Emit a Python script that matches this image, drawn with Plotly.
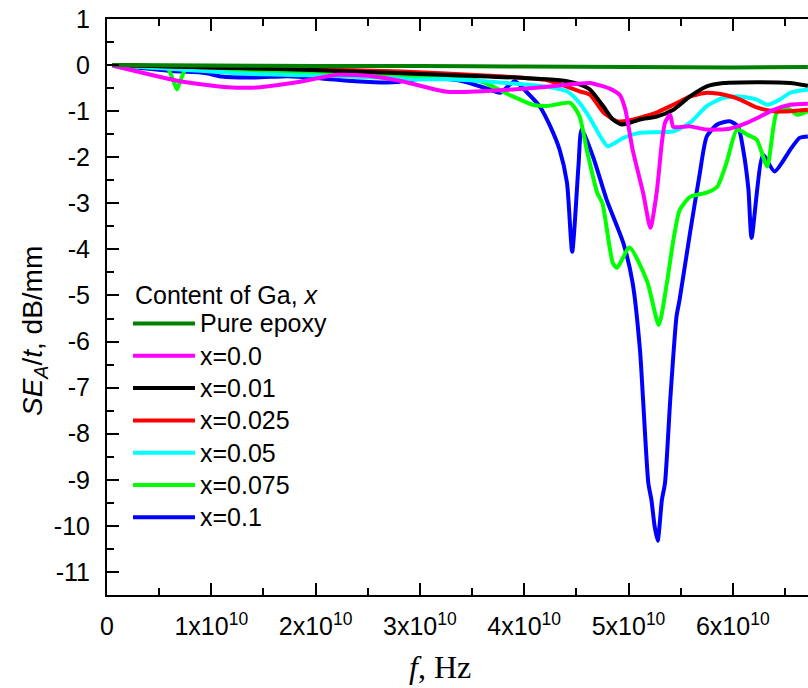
import plotly.graph_objects as go

# ---------------- data (frequency in GHz, SE_A/t in dB/mm) ----------------
epoxy_f = [0.5, 10, 20, 30, 40, 50, 60, 67.2]
epoxy_v = [0.0, -0.01, -0.02, -0.02, -0.03, -0.04, -0.05, -0.04]

x000_f = [0.5, 7.0, 11.6, 14.0, 18.5, 22.1, 25.4, 28.3, 32.6, 38.9, 42.2, 45.3, 46.3,
          48.2, 49.2, 49.7, 50.4, 51.4, 52.1, 52.7, 53.2, 53.5, 54.0, 54.3, 55.9,
          57.5, 59.7, 61.4, 62.6, 63.9, 65.5, 67.2]
x000_v = [-0.01, -0.35, -0.48, -0.49, -0.36, -0.21, -0.24, -0.35, -0.58, -0.53, -0.47, -0.40, -0.39,
          -0.51, -0.66, -0.97, -1.84, -2.77, -3.53, -2.77, -1.68, -1.25, -1.08, -1.34, -1.33,
          -1.40, -1.38, -1.25, -1.12, -0.97, -0.86, -0.84]

x001_f = [0.5, 10, 19.0, 28.3, 35.8, 42.2, 44.1, 45.3, 46.3, 47.6, 48.5, 49.4, 51.1,
          52.7, 54.3, 55.9, 57.5, 59.1, 62.3, 65.5, 67.2]
x001_v = [0.0, -0.05, -0.10, -0.18, -0.24, -0.31, -0.35, -0.42, -0.53, -0.90, -1.18, -1.29, -1.18,
          -1.12, -0.97, -0.68, -0.46, -0.39, -0.37, -0.39, -0.45]

x0025_f = [0.5, 10, 19.0, 28.3, 35.8, 42.2, 45.3, 46.3, 47.6, 48.9, 49.5, 51.1, 52.7,
           54.3, 55.9, 57.5, 59.1, 60.7, 62.3, 63.9, 65.5, 67.2]
x0025_v = [0.0, -0.05, -0.09, -0.14, -0.22, -0.33, -0.57, -0.64, -1.03, -1.22, -1.22, -1.14, -1.03,
           -0.86, -0.68, -0.60, -0.64, -0.75, -0.92, -1.00, -1.00, -0.97]

x005_f = [0.5, 6.0, 9.4, 12.5, 19.0, 26.0, 29.3, 32.6, 38.9, 42.2, 44.1, 45.3, 46.3, 47.3,
          48.0, 49.5, 51.1, 54.3, 55.9, 57.5, 59.1, 60.7, 62.3, 63.3, 64.5, 65.5, 67.2]
x005_v = [0.0, -0.08, -0.13, -0.18, -0.22, -0.27, -0.31, -0.31, -0.40, -0.47, -0.57, -0.82, -1.15, -1.55,
          -1.76, -1.58, -1.47, -1.44, -1.25, -0.89, -0.71, -0.68, -0.75, -0.86, -0.75, -0.60, -0.53]

x0075_f = [0.5, 4.0, 5.8, 6.3, 6.7, 7.1, 7.6, 12.0, 19.0, 26.0, 32.6, 35.8, 38.9, 40.8, 42.2,
           44.4, 45.3, 46.0, 47.0, 47.5, 48.5, 48.9, 50.1, 51.8, 52.9, 53.7, 54.3, 54.9,
           55.9, 57.5, 58.5, 59.4, 60.4, 61.4, 62.3, 63.3, 64.2, 65.2, 66.2, 67.2]
x0075_v = [0.0, -0.05, -0.07, -0.30, -0.53, -0.30, -0.08, -0.12, -0.18, -0.22, -0.28, -0.35, -0.68, -0.86, -0.89,
           -0.82, -1.11, -1.84, -2.77, -3.00, -4.30, -4.40, -3.96, -4.70, -5.64, -4.70, -3.80, -3.15,
           -2.86, -2.77, -2.64, -2.12, -1.40, -1.51, -1.62, -2.20, -1.04, -0.93, -1.08, -1.00]

x01_f = [0.5, 6.2, 9.4, 11.0, 14.2, 17.4, 20.6, 23.8, 26.9, 27.8, 31.0, 34.1, 36.7, 37.7,
         39.1, 40.3, 41.5, 42.5, 43.4, 44.1, 44.6, 45.2, 45.5, 46.6, 47.9, 49.5, 50.4,
         51.1, 51.4, 51.9, 52.2, 52.5, 52.8, 53.2, 53.5, 54.0, 54.6, 54.9, 55.9, 56.8,
         57.5, 58.5, 59.7, 60.5, 61.0, 61.5, 61.8, 62.9, 64.0, 65.5, 66.4, 67.2]
x01_v = [0.0, -0.13, -0.17, -0.25, -0.27, -0.24, -0.29, -0.35, -0.38, -0.37, -0.27, -0.35, -0.53, -0.60,
         -0.35, -0.60, -0.90, -1.33, -1.84, -2.55, -4.05, -2.20, -1.40, -1.99, -2.92, -3.86, -4.73,
         -6.18, -7.27, -9.07, -9.44, -10.0, -10.32, -9.44, -9.07, -7.27, -5.46, -5.09, -3.64, -2.40,
         -1.55, -1.29, -1.22, -1.33, -1.84, -2.70, -3.75, -1.95, -2.31, -1.84, -1.58, -1.55]

series_names = ["Pure epoxy", "x=0.0", "x=0.01", "x=0.025", "x=0.05", "x=0.075", "x=0.1"]
series_f = [epoxy_f, x000_f, x001_f, x0025_f, x005_f, x0075_f, x01_f]
series_v = [epoxy_v, x000_v, x001_v, x0025_v, x005_v, x0075_v, x01_v]
series_colors = ["#008000", "#ff00ff", "#000000", "#ff0000", "#00ffff", "#00ff00", "#0000ff"]

x_tickvals = [0, 1e10, 2e10, 3e10, 4e10, 5e10, 6e10]
x_ticktext = ["0"] + [f"{k}x10<sup>10</sup>" for k in range(1, 7)]
y_tickvals = list(range(-11, 2))
y_ticktext = [str(v) for v in y_tickvals]

# ---------------- figure ----------------
W, H = 808, 688
ML, MR, MT, MB = 107, 0, 19, 93
PW, PH = W - ML - MR, H - MT - MB

fig = go.Figure()
draw_order = [6, 5, 4, 3, 2, 1, 0]
for i in draw_order:
    fig.add_trace(go.Scatter(
        x=[f * 1e9 for f in series_f[i]], y=series_v[i], mode="lines",
        name=series_names[i], showlegend=False,
        line=dict(color=series_colors[i], width=4, shape="spline", smoothing=0.6),
    ))

TICKFONT = dict(family="Liberation Sans, Arial", size=25, color="black")

fig.update_layout(
    width=W, height=H, autosize=False,
    margin=dict(l=ML, r=MR, t=MT, b=MB, pad=0),
    paper_bgcolor="white", plot_bgcolor="white",
    showlegend=False,
    xaxis=dict(
        range=[0, (W - ML - MR) / 104.3 * 1e10], showgrid=False, zeroline=False,
        showline=True, linecolor="black", linewidth=2, mirror="ticks",
        ticks="inside", ticklen=12, tickwidth=2, tickcolor="black",
        tickvals=x_tickvals, ticktext=x_ticktext, tickfont=TICKFONT,
        ticklabelstandoff=8,
        minor=dict(dtick=0.5e10, tick0=0, ticks="inside", ticklen=7, tickwidth=2, tickcolor="black"),
    ),
    yaxis=dict(
        range=[-11.5, 1.0], showgrid=False, zeroline=False,
        showline=True, linecolor="black", linewidth=2, mirror=False,
        ticks="inside", ticklen=12, tickwidth=2, tickcolor="black",
        tickvals=y_tickvals, ticktext=y_ticktext, tickfont=TICKFONT,
        ticklabelstandoff=10,
        minor=dict(dtick=0.5, tick0=0, ticks="inside", ticklen=7, tickwidth=2, tickcolor="black"),
    ),
)

def px_x(p):
    return (p - ML) / PW

def px_y(p):
    return (H - MB - p) / PH

annotations = []
shapes = []
# axis titles
annotations.append(dict(
    text="<i>f</i>, Hz", x=px_x(440), y=px_y(667), xref="paper", yref="paper",
    xanchor="center", yanchor="middle", showarrow=False,
    font=dict(family="Liberation Serif, Times New Roman", size=32, color="black")))
annotations.append(dict(
    text="<i>SE<sub>A</sub></i>/<i>t</i>, dB/mm", x=px_x(34), y=px_y(331), xref="paper", yref="paper",
    xanchor="center", yanchor="middle", showarrow=False, textangle=-90,
    font=dict(family="Liberation Sans, Arial", size=28, color="black")))

# legend (drawn manually)
LEGFONT = dict(family="Liberation Sans, Arial", size=25, color="black")
annotations.append(dict(
    text="Content of Ga, <i>x</i>", x=px_x(133), y=px_y(295), xref="paper", yref="paper",
    xanchor="left", yanchor="middle", showarrow=False, font=LEGFONT))
row0, step = 323.5, 32.3
for k, (nm, col) in enumerate(zip(series_names, series_colors)):
    yy = px_y(row0 + k * step)
    shapes.append(dict(type="line", xref="paper", yref="paper",
                       x0=px_x(133), x1=px_x(195), y0=yy, y1=yy,
                       line=dict(color=col, width=4)))
    annotations.append(dict(
        text=nm, x=px_x(198), y=yy, xref="paper", yref="paper",
        xanchor="left", yanchor="middle", showarrow=False, font=LEGFONT))

fig.update_layout(annotations=annotations, shapes=shapes)
fig.write_html("out.html")
